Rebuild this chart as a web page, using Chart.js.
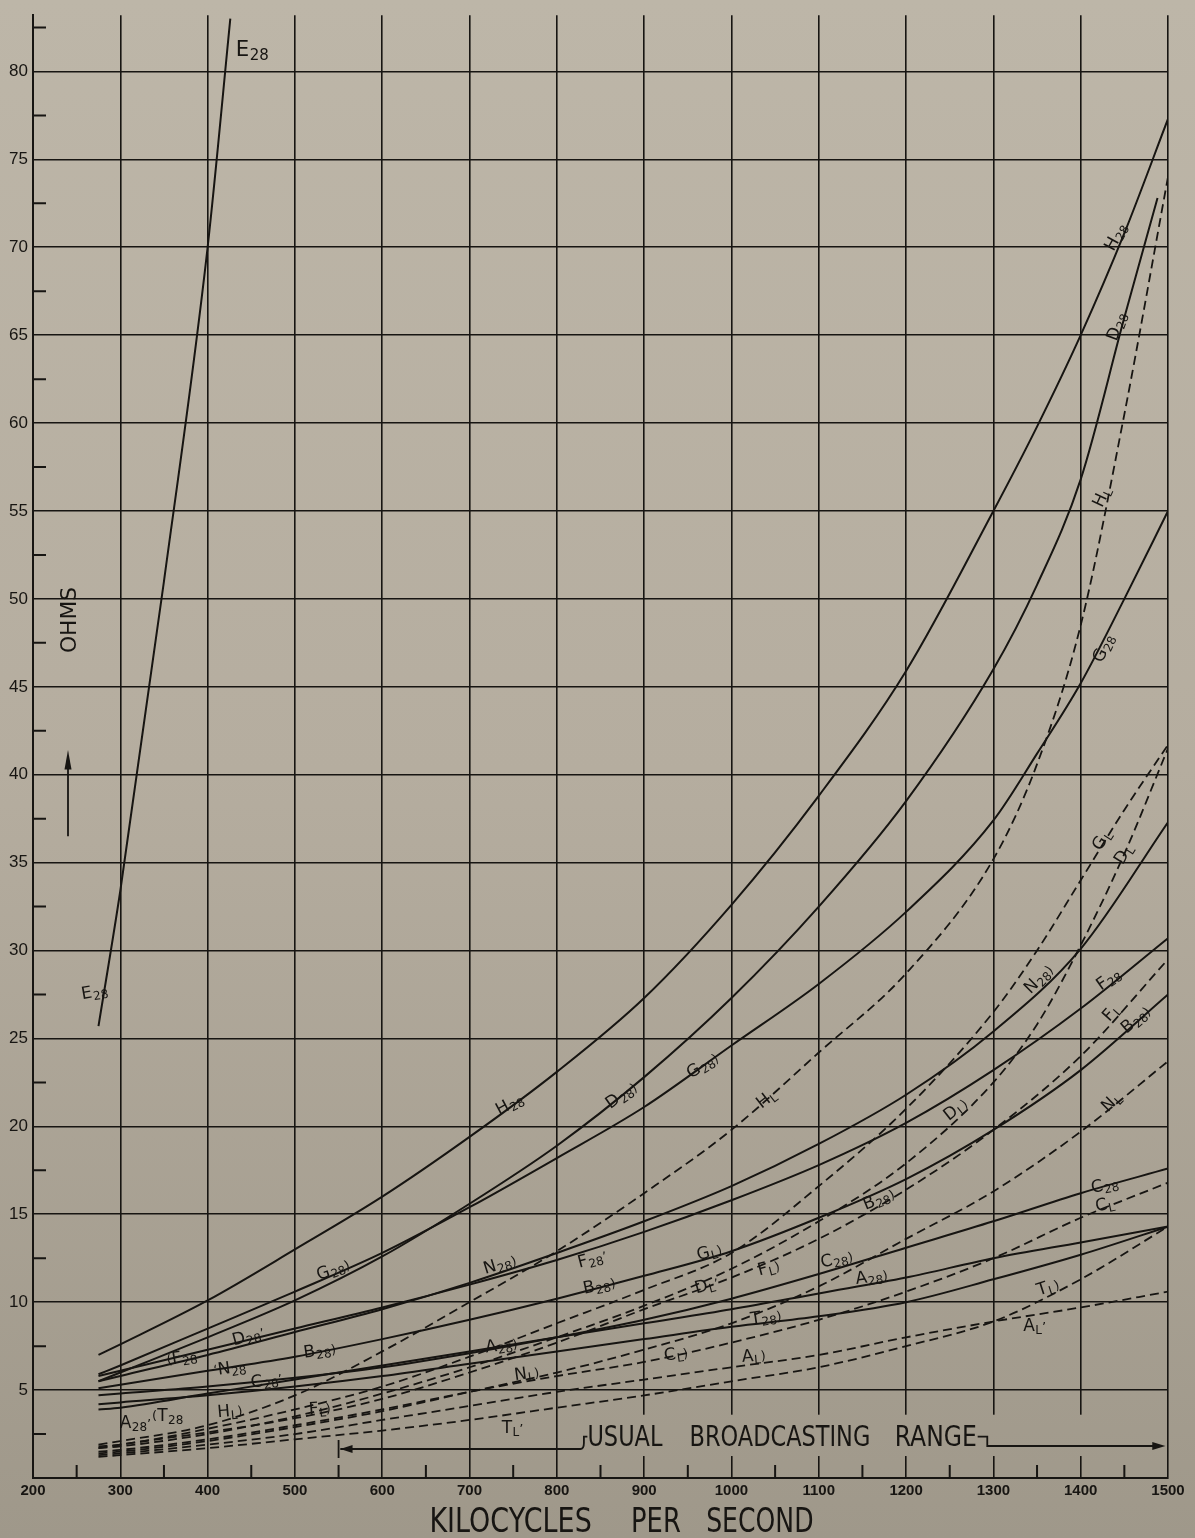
<!DOCTYPE html>
<html>
<head>
<meta charset="utf-8">
<script src="https://cdn.jsdelivr.net/npm/chart.js@4.4.1/dist/chart.umd.min.js"></script>
<style>
  html, body { margin: 0; padding: 0; background: #b6ae9f; }
</style>
</head>
<body>
<canvas id="chart" width="1195" height="1538"></canvas>
<script>
// frequencies (kilocycles per second) the curves were read at
const kc = [275, 300, 400, 500, 600, 700, 800, 900, 1000, 1100, 1200, 1300, 1400, 1500];
const kcSteep = [275, 300, 400, 500, 600, 700, 800, 900, 1000, 1100, 1200, 1300, 1350, 1400, 1450, 1500];
const kcD = [275, 300, 400, 500, 600, 700, 800, 900, 1000, 1100, 1200, 1300, 1350, 1400, 1450, 1488];
const kcE = [275, 300, 350, 400, 426];

// resistance in ohms, No. 28 wire coils (solid)
const e28 = [25.7, 33.4, 51.0, 70.0, 83.0];
const h28 = [7.0, 7.6, 10.1, 13.0, 16.0, 19.4, 23.1, 27.3, 32.6, 38.8, 45.9, 55.0, 59.8, 65.0, 70.8, 77.3];
const d28 = [5.5, 6.0, 8.0, 10.1, 12.6, 15.6, 18.9, 22.8, 27.3, 32.5, 38.5, 46.0, 50.8, 56.8, 66.0, 72.8];
const g28 = [5.9, 6.4, 8.5, 10.6, 12.8, 15.4, 18.2, 21.1, 24.6, 28.1, 32.2, 37.4, 41.2, 45.2, 50.0, 55.0];
const n28 = [5.5, 5.8, 7.0, 8.3, 9.6, 11.1, 12.8, 14.6, 16.6, 19.0, 21.8, 25.4, 30.1, 37.3];
const f28 = [5.8, 6.1, 7.3, 8.5, 9.7, 11.0, 12.4, 14.0, 15.8, 17.8, 20.2, 23.2, 26.7, 30.7];
const b28 = [5.1, 5.3, 6.1, 6.9, 7.9, 9.0, 10.2, 11.5, 12.9, 14.8, 17.0, 19.8, 23.2, 27.5];
const c28 = [4.7, 4.8, 5.2, 5.7, 6.3, 7.1, 8.0, 9.0, 10.2, 11.6, 13.1, 14.6, 16.2, 17.6];
const a28 = [3.9, 4.0, 4.8, 5.6, 6.4, 7.2, 8.0, 8.8, 9.6, 10.5, 11.4, 12.5, 13.4, 14.3];
const t28 = [4.2, 4.3, 4.7, 5.2, 5.8, 6.5, 7.2, 7.9, 8.6, 9.2, 10.0, 11.3, 12.7, 14.3];

// resistance in ohms, litz wire coils (dashed)
const hL = [1.9, 2.1, 3.0, 4.7, 7.2, 10.0, 12.9, 16.2, 19.8, 24.2, 28.7, 35.2, 40.6, 48.5, 60.5, 74.0];
const gL = [1.8, 1.9, 2.8, 3.9, 5.2, 6.9, 8.8, 10.7, 12.8, 16.6, 21.0, 26.5, 30.0, 34.0, 38.0, 41.7];
const dL = [1.7, 1.8, 2.5, 3.5, 4.8, 6.3, 8.0, 9.8, 11.9, 14.6, 17.9, 22.5, 25.8, 30.3, 35.5, 41.5];
const fL = [1.7, 1.9, 2.6, 3.4, 4.5, 6.0, 7.7, 9.6, 11.4, 13.6, 16.4, 19.8, 24.0, 29.5];
const nL = [1.4, 1.5, 2.1, 2.9, 3.8, 4.9, 6.0, 7.3, 8.8, 10.9, 13.6, 16.3, 19.7, 23.7];
const cL = [1.5, 1.6, 2.2, 3.0, 3.9, 4.9, 5.8, 6.6, 7.7, 9.0, 10.6, 12.5, 14.8, 16.8];
const aL = [1.3, 1.4, 1.9, 2.5, 3.3, 4.1, 4.9, 5.6, 6.3, 7.0, 8.0, 8.9, 9.7, 10.6];
const tL = [1.2, 1.3, 1.7, 2.2, 2.7, 3.3, 4.0, 4.7, 5.5, 6.3, 7.5, 8.9, 11.3, 14.3];

const yTicks = [5, 10, 15, 20, 25, 30, 35, 40, 45, 50, 55, 60, 65, 70, 75, 80];

const curves = [
  ['E28', kcE, e28, false], ['H28', kcSteep, h28, false], ['D28', kcD, d28, false],
  ['G28', kcSteep, g28, false], ['N28', kc, n28, false], ['F28', kc, f28, false],
  ['B28', kc, b28, false], ['C28', kc, c28, false], ['A28', kc, a28, false], ['T28', kc, t28, false],
  ['HL', kcSteep, hL, true], ['GL', kcSteep, gL, true], ['DL', kcSteep, dL, true],
  ['FL', kc, fL, true], ['NL', kc, nL, true], ['CL', kc, cL, true], ['AL', kc, aL, true], ['TL', kc, tL, true]
];

// curve tags: kc, ohms, rotation, [before, letter, subscript, after], size
const tags = [
  [451, 81.3, 0, ['', 'E', '28', ''], 1.25],
  [270, 27.7, -10, ['', 'E', '28', ''], 1],
  [745, 21.3, -28, ['', 'H', '28', ''], 1],
  [873, 21.8, -35, ['', 'D', '28', ')'], 1],
  [966, 23.5, -32, ['', 'G', '28', ')'], 1],
  [1039, 21.6, -38, ['', 'H', 'L', ''], 1],
  [543, 11.9, -20, ['', 'G', '28', ')'], 1],
  [446, 8.1, -15, ['', 'D', '28', '\u2019'], 1],
  [734, 12.2, -17, ['', 'N', '28', ')'], 1],
  [840, 12.5, -15, ['', 'F', '28', '\u2019'], 1],
  [848, 11.0, -12, ['', 'B', '28', ')'], 1],
  [974, 12.9, -15, ['', 'G', 'L', ')'], 1],
  [971, 11.0, -15, ['', 'D', 'L', '\u2019'], 1],
  [1042, 12.0, -15, ['', 'F', 'L', ')'], 1],
  [1039, 9.2, -8, ['', 'T', '28', ')'], 1],
  [736, 7.6, -8, ['', 'A', '28', ')'], 1],
  [765, 6.0, -8, ['', 'N', 'L', ')'], 1],
  [936, 7.1, -8, ['', 'C', 'L', ')'], 1],
  [1025, 7.0, -5, ['', 'A', 'L', ')'], 1],
  [749, 2.9, 0, ['', 'T', 'L', '\u2019'], 1],
  [1120, 12.5, -12, ['', 'C', '28', ')'], 1],
  [1160, 11.5, -8, ['', 'A', '28', ')'], 1],
  [1168, 15.9, -22, ['', 'B', '28', ')'], 1],
  [1427, 16.7, -12, ['', 'C', '28', ''], 1],
  [1427, 15.6, -12, ['', 'C', 'L', ''], 1],
  [1362, 10.9, -18, ['', 'T', 'L', ')'], 1],
  [1347, 8.7, 0, ['', 'A', 'L', '\u2019'], 1],
  [1434, 21.4, -45, ['', 'N', 'L', ''], 1],
  [1256, 21.0, -38, ['', 'D', 'L', ')'], 1],
  [1351, 28.4, -45, ['', 'N', '28', ')'], 1],
  [1431, 28.4, -35, ['', 'F', '28', ''], 1],
  [1434, 26.5, -48, ['', 'F', 'L', ''], 1],
  [1462, 26.1, -40, ['', 'B', '28', ')'], 1],
  [1423, 36.3, -58, ['', 'G', 'L', ''], 1],
  [1448, 35.5, -58, ['', 'D', 'L', ''], 1],
  [1425, 47.2, -65, ['', 'G', '28', ''], 1],
  [1423, 55.8, -65, ['', 'H', 'L', ''], 1],
  [1440, 65.5, -70, ['', 'D', '28', ''], 1],
  [1439, 70.6, -62, ['', 'H', '28', ''], 1],
  [370, 6.9, -10, ['(', 'F', '28', ''], 1],
  [425, 6.3, -8, ['\u2018', 'N', '28', ''], 1],
  [467, 5.6, -8, ['', 'C', '28', '\u2019'], 1],
  [317, 3.2, 0, ['', 'A', '28', '\u2019'], 1],
  [354, 3.6, 0, ['(', 'T', '28', ''], 1],
  [425, 3.85, -5, ['', 'H', 'L', ')'], 1],
  [528, 4.0, -5, ['', 'F', 'L', ')'], 1],
  [528, 7.3, -8, ['', 'B', '28', ')'], 1]
];

const ink = '#171512';

function paperFill(ctx, h) {
  const g = ctx.createLinearGradient(0, 0, 0, h);
  g.addColorStop(0, '#bdb6a8');
  g.addColorStop(0.5, '#b5ad9f');
  g.addColorStop(1, '#9f988a');
  return g;
}

function drawTag(ctx, x, y, deg, parts, k) {
  const [pre, base, sub, post] = parts;
  const big = (17 * k).toFixed(1) + 'px "DejaVu Sans"';
  const small = (12 * k).toFixed(1) + 'px "DejaVu Sans"';
  const mark = (13 * k).toFixed(1) + 'px "DejaVu Sans"';
  ctx.save();
  ctx.translate(x, y);
  ctx.rotate(deg * Math.PI / 180);
  ctx.fillStyle = ink;
  ctx.textAlign = 'left';
  ctx.textBaseline = 'alphabetic';
  ctx.font = mark; const wPre = ctx.measureText(pre).width; const wPost = ctx.measureText(post).width;
  ctx.font = big; const wBase = ctx.measureText(base).width;
  ctx.font = small; const wSub = ctx.measureText(sub).width;
  let cx = -(wPre + wBase + wSub + wPost) / 2;
  const b = 6 * k;
  ctx.font = mark; ctx.fillText(pre, cx, b - 1); cx += wPre;
  ctx.font = big; ctx.fillText(base, cx, b); cx += wBase;
  ctx.font = small; ctx.fillText(sub, cx + 0.5, b + 3 * k); cx += wSub + 0.5;
  ctx.font = mark; ctx.fillText(post, cx, b);
  ctx.restore();
}

function fitText(ctx, text, left, baseline, width, size) {
  ctx.save();
  ctx.font = size + 'px "DejaVu Sans"';
  ctx.textAlign = 'left';
  ctx.textBaseline = 'alphabetic';
  const w = ctx.measureText(text).width;
  ctx.translate(left, baseline);
  ctx.scale(width / w, 1);
  ctx.fillStyle = ink;
  ctx.fillText(text, 0, 0);
  ctx.restore();
}

const paper = {
  id: 'paper',
  beforeDraw(chart) {
    const ctx = chart.ctx;
    ctx.save();
    ctx.fillStyle = paperFill(ctx, chart.height);
    ctx.fillRect(0, 0, chart.width, chart.height);
    ctx.restore();
  },
  beforeDatasetsDraw(chart) {
    const ctx = chart.ctx, xs = chart.scales.x, ys = chart.scales.y, a = chart.chartArea;
    ctx.save();
    // gap in the vertical rules behind the range lettering
    ctx.fillStyle = paperFill(ctx, chart.height);
    ctx.fillRect(xs.getPixelForValue(832), ys.getPixelForValue(3.6), xs.getPixelForValue(1492) - xs.getPixelForValue(832), ys.getPixelForValue(1.25) - ys.getPixelForValue(3.6));
    // half-step ticks
    ctx.strokeStyle = ink;
    ctx.lineWidth = 2;
    ctx.beginPath();
    for (let v = 2.5; v < ys.max; v += 5) {
      const y = ys.getPixelForValue(v);
      ctx.moveTo(a.left, y); ctx.lineTo(a.left + 13, y);
    }
    for (let f = 250; f < 1500; f += 100) {
      const x = xs.getPixelForValue(f);
      ctx.moveTo(x, a.bottom); ctx.lineTo(x, a.bottom - 13);
    }
    ctx.stroke();
    ctx.restore();
  },
  afterDatasetsDraw(chart) {
    const ctx = chart.ctx, xs = chart.scales.x, ys = chart.scales.y, a = chart.chartArea;
    tags.forEach(t => drawTag(ctx, xs.getPixelForValue(t[0]), ys.getPixelForValue(t[1]), t[2], t[3], t[4]));

    // usual broadcasting range bracket
    const X = f => xs.getPixelForValue(f), Y = v => ys.getPixelForValue(v);
    ctx.save();
    ctx.strokeStyle = ink;
    ctx.fillStyle = ink;
    ctx.lineWidth = 1.8;
    const yl = Y(1.65), yr = Y(1.82);
    ctx.beginPath();
    ctx.moveTo(X(550), yl - 9); ctx.lineTo(X(550), yl + 9);
    ctx.moveTo(X(552), yl); ctx.lineTo(X(827), yl);
    ctx.quadraticCurveTo(X(831), yl, X(831), yl - 6);
    ctx.lineTo(X(831), Y(2.35)); ctx.lineTo(X(835), Y(2.35));
    ctx.moveTo(X(1282), Y(2.35)); ctx.lineTo(X(1293), Y(2.35)); ctx.lineTo(X(1293), yr); ctx.lineTo(X(1488), yr);
    ctx.stroke();
    ctx.beginPath();
    ctx.moveTo(X(552), yl); ctx.lineTo(X(566), yl - 4); ctx.lineTo(X(566), yl + 4); ctx.closePath();
    ctx.moveTo(X(1497), yr); ctx.lineTo(X(1482), yr - 4); ctx.lineTo(X(1482), yr + 4); ctx.closePath();
    ctx.fill();
    ctx.restore();
    const tb = Y(1.82);
    fitText(ctx, 'USUAL', X(835), tb, X(921) - X(835), 29);
    fitText(ctx, 'BROADCASTING', X(952), tb, X(1159) - X(952), 29);
    fitText(ctx, 'RANGE', X(1187), tb, X(1281) - X(1187), 29);

    // axis titles
    const bb = a.bottom + 54;
    fitText(ctx, 'KILOCYCLES', X(654), bb, X(840) - X(654), 33);
    fitText(ctx, 'PER', X(885), bb, X(942) - X(885), 33);
    fitText(ctx, 'SECOND', X(971), bb, X(1094) - X(971), 33);

    ctx.save();
    ctx.translate(76, Y(48.8));
    ctx.rotate(-Math.PI / 2);
    ctx.font = '22px "DejaVu Sans"';
    ctx.textAlign = 'center';
    ctx.fillStyle = ink;
    const w = ctx.measureText('OHMS').width;
    ctx.scale(66 / w, 1);
    ctx.fillText('OHMS', 0, 0);
    ctx.restore();
    ctx.save();
    ctx.strokeStyle = ink;
    ctx.fillStyle = ink;
    ctx.lineWidth = 1.8;
    ctx.beginPath();
    ctx.moveTo(68, Y(36.5)); ctx.lineTo(68, Y(40.6));
    ctx.stroke();
    ctx.beginPath();
    ctx.moveTo(68, Y(41.4)); ctx.lineTo(64.5, Y(40.3)); ctx.lineTo(71.5, Y(40.3)); ctx.closePath();
    ctx.fill();
    ctx.restore();
  }
};

const datasets = curves.map(([name, xsArr, ys, dashed]) => ({
  label: name,
  data: xsArr.map((f, i) => ({ x: f, y: ys[i] })),
  borderColor: ink,
  borderWidth: dashed ? 1.8 : 2,
  borderDash: dashed ? [9, 5] : [],
  pointRadius: 0,
  fill: false,
  cubicInterpolationMode: 'monotone'
}));

new Chart(document.getElementById('chart'), {
  type: 'line',
  data: { datasets },
  options: {
    responsive: false,
    animation: false,
    layout: { padding: { left: 0, right: 27, top: 10, bottom: 0 } },
    plugins: { legend: { display: false }, tooltip: { enabled: false } },
    scales: {
      x: {
        type: 'linear',
        min: 200,
        max: 1500,
        afterFit: s => { s.height = 60; },
        ticks: { stepSize: 100, color: ink, padding: 4, font: { family: 'Liberation Sans', size: 15, weight: 'bold' }, callback: v => String(v) },
        grid: { color: ink, lineWidth: 1.6, drawTicks: false },
        border: { color: ink, width: 2 }
      },
      y: {
        type: 'linear',
        min: 0,
        max: 83.2,
        afterFit: s => { s.width = 33; },
        afterBuildTicks: s => { s.ticks = s.ticks.filter(t => t.value === 0 || yTicks.includes(t.value)); },
        ticks: { stepSize: 5, color: ink, padding: 5, font: { family: 'Liberation Sans', size: 17 }, callback: v => (v === 0 ? '' : String(v)) },
        grid: { color: ink, lineWidth: 1.6, drawTicks: false },
        border: { color: ink, width: 2 }
      }
    }
  },
  plugins: [paper]
});
</script>
</body>
</html>
